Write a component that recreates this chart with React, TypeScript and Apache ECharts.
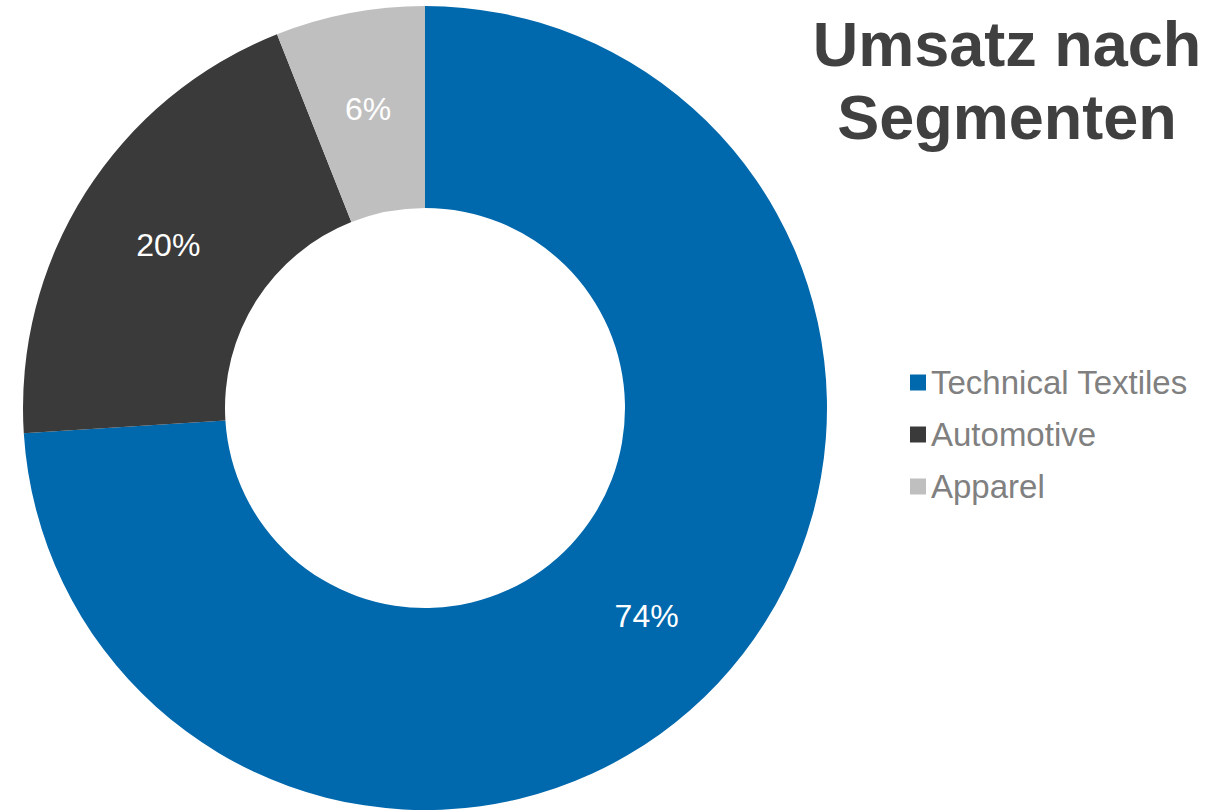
import React, { useEffect, useRef } from "react";
import * as echarts from "echarts";

const categories = ["Technical Textiles", "Automotive", "Apparel"];
const shares = [74, 20, 6];
const colors = ["#0068AD", "#3A3A3A", "#BFBFBF"];
const titleText = "Umsatz nach\nSegmenten";

export default function App() {
  const ref = useRef<HTMLDivElement>(null);
  useEffect(() => {
    document.body.style.margin = "0";
    const chart = echarts.init(ref.current!, null, { renderer: "svg" });
    const font = "Liberation Sans, Arial, sans-serif";
    chart.setOption({
      animation: false,
      title: {
        text: titleText,
        left: 1002,
        top: 2,
        textAlign: "center",
        textStyle: {
          fontFamily: font,
          fontSize: 63,
          fontWeight: "bold",
          color: "#404040",
          lineHeight: 73,
        },
      },
      legend: {
        orient: "vertical",
        left: 905,
        top: 361,
        icon: "rect",
        itemWidth: 16,
        itemHeight: 16,
        itemGap: 19,
        data: categories,
        selectedMode: false,
        textStyle: {
          fontFamily: font,
          fontSize: 33,
          lineHeight: 33,
          color: "#808080",
        },
      },
      series: [
        {
          type: "pie",
          center: [425, 408],
          radius: [200, 402],
          startAngle: 90,
          clockwise: true,
          avoidLabelOverlap: false,
          emphasis: { disabled: true },
          itemStyle: { borderWidth: 0 },
          label: {
            show: true,
            position: "inside",
            formatter: "{c}%",
            color: "#FFFFFF",
            fontFamily: font,
            fontSize: 32,
          },
          labelLine: { show: false },
          data: categories.map((name, i) => ({
            name,
            value: shares[i],
            itemStyle: { color: colors[i] },
          })),
        },
      ],
    });
    return () => chart.dispose();
  }, []);
  return <div ref={ref} style={{ width: 1221, height: 810 }} />;
}
